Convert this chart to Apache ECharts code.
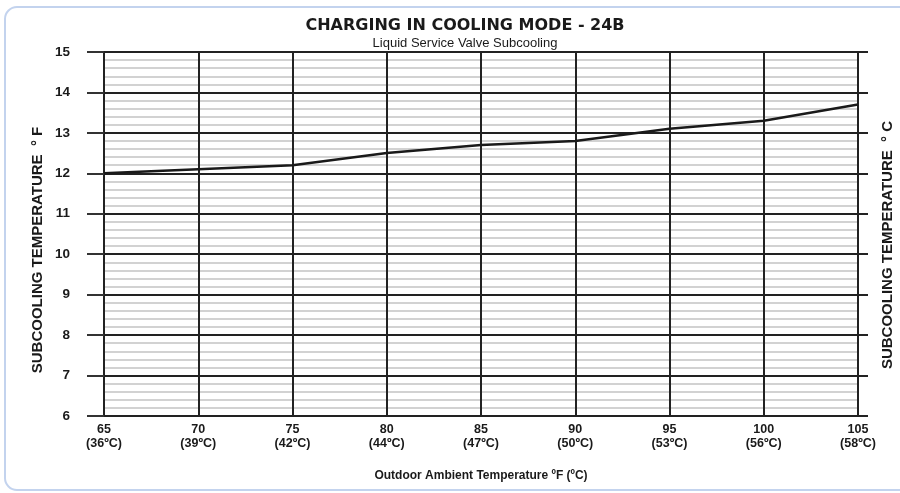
<!DOCTYPE html>
<html>
<head>
<meta charset="utf-8">
<script src="https://cdn.jsdelivr.net/npm/echarts@6/dist/echarts.min.js"></script>
<style>
html,body{margin:0;padding:0;background:#fff;}
#chart{width:900px;height:493px;}
</style>
</head>
<body>
<div id="chart"></div>
<script>
var outdoorF = [65, 70, 75, 80, 85, 90, 95, 100, 105];
var outdoorC = ['36ºC', '39ºC', '42ºC', '44ºC', '47ºC', '50ºC', '53ºC', '56ºC', '58ºC'];
var subcooling = [12.0, 12.1, 12.2, 12.5, 12.7, 12.8, 13.1, 13.3, 13.7];
var titleText = 'CHARGING IN COOLING MODE - 24B';
var subtitleText = 'Liquid Service Valve Subcooling';
var xName = 'Outdoor Ambient Temperature ºF (ºC)';
var yNameLeft = 'SUBCOOLING TEMPERATURE  ° F';
var yNameRight = 'SUBCOOLING TEMPERATURE  ° C';

var narrow = "'Liberation Sans Narrow', 'Liberation Sans', Arial, sans-serif";
var sans = "'Liberation Sans', Arial, sans-serif";

var chart = echarts.init(document.getElementById('chart'));
var points = outdoorF.map(function (f, i) { return [f, subcooling[i]]; });

chart.setOption({
  backgroundColor: '#ffffff',
  animation: false,
  graphic: [{
    type: 'rect',
    silent: true,
    z: -10,
    shape: { x: 5, y: 7, width: 1000, height: 483, r: 12 },
    style: { fill: 'none', stroke: '#c3d3ee', lineWidth: 2 }
  }, {
    type: 'text',
    silent: true,
    x: 38, y: 250,
    rotation: Math.PI / 2,
    style: {
      text: yNameLeft, align: 'center', verticalAlign: 'middle',
      font: "bold 15px 'Liberation Sans', Arial, sans-serif", fill: '#1a1a1a'
    }
  }, {
    type: 'text',
    silent: true,
    x: 888, y: 245,
    rotation: Math.PI / 2,
    style: {
      text: yNameRight, align: 'center', verticalAlign: 'middle',
      font: "bold 15px 'Liberation Sans', Arial, sans-serif", fill: '#1a1a1a'
    }
  }],
  title: [{
    text: titleText,
    left: 460,
    textAlign: 'center',
    top: 13,
    textStyle: { fontFamily: "'DejaVu Sans', sans-serif", fontWeight: 'bold', fontSize: 16, color: '#1a1a1a' }
  }, {
    text: subtitleText,
    left: 460,
    textAlign: 'center',
    top: 32,
    textStyle: { fontFamily: narrow, fontWeight: 'normal', fontSize: 13, color: '#1a1a1a' }
  }],
  grid: { left: 104, right: 42, top: 52, bottom: 77, containLabel: false },
  xAxis: {
    type: 'value',
    min: 65, max: 105, interval: 5,
    name: xName,
    nameLocation: 'middle',
    nameGap: 54,
    nameTextStyle: { fontFamily: narrow, fontWeight: 'bold', fontSize: 12, color: '#1a1a1a' },
    axisLine: { show: true, lineStyle: { color: '#222', width: 2 } },
    axisTick: { show: false },
    axisLabel: {
      margin: 7,
      fontFamily: narrow, fontWeight: 'bold', fontSize: 12.5, color: '#1a1a1a', lineHeight: 14,
      formatter: function (v) {
        var i = outdoorF.indexOf(v);
        return i >= 0 ? v + '\n(' + outdoorC[i] + ')' : '';
      }
    },
    splitLine: { show: true, lineStyle: { color: '#222', width: 2 } }
  },
  yAxis: [{
    type: 'value',
    position: 'left',
    min: 6, max: 15, interval: 1,
    axisLine: { show: true, lineStyle: { color: '#222', width: 2 } },
    axisTick: { show: true, inside: false, length: 17, lineStyle: { color: '#333', width: 2 } },
    axisLabel: { margin: 34, fontFamily: narrow, fontWeight: 'bold', fontSize: 13.5, color: '#1a1a1a' },
    splitLine: { show: true, lineStyle: { color: '#222', width: 2 } },
    minorTick: { show: false, splitNumber: 5 },
    minorSplitLine: { show: true, lineStyle: { color: '#c4c4c4', width: 1.5 } }
  }, {
    type: 'value',
    position: 'right',
    min: 6, max: 15, interval: 1,
    axisLine: { show: true, lineStyle: { color: '#222', width: 2 } },
    axisTick: { show: true, inside: false, length: 10, lineStyle: { color: '#222', width: 2 } },
    axisLabel: { show: false },
    splitLine: { show: false }
  }],
  series: [{
    type: 'line',
    data: points,
    yAxisIndex: 0,
    symbol: 'none',
    smooth: false,
    lineStyle: { color: '#1a1a1a', width: 2.5 },
    z: 5
  }]
});
</script>
</body>
</html>
